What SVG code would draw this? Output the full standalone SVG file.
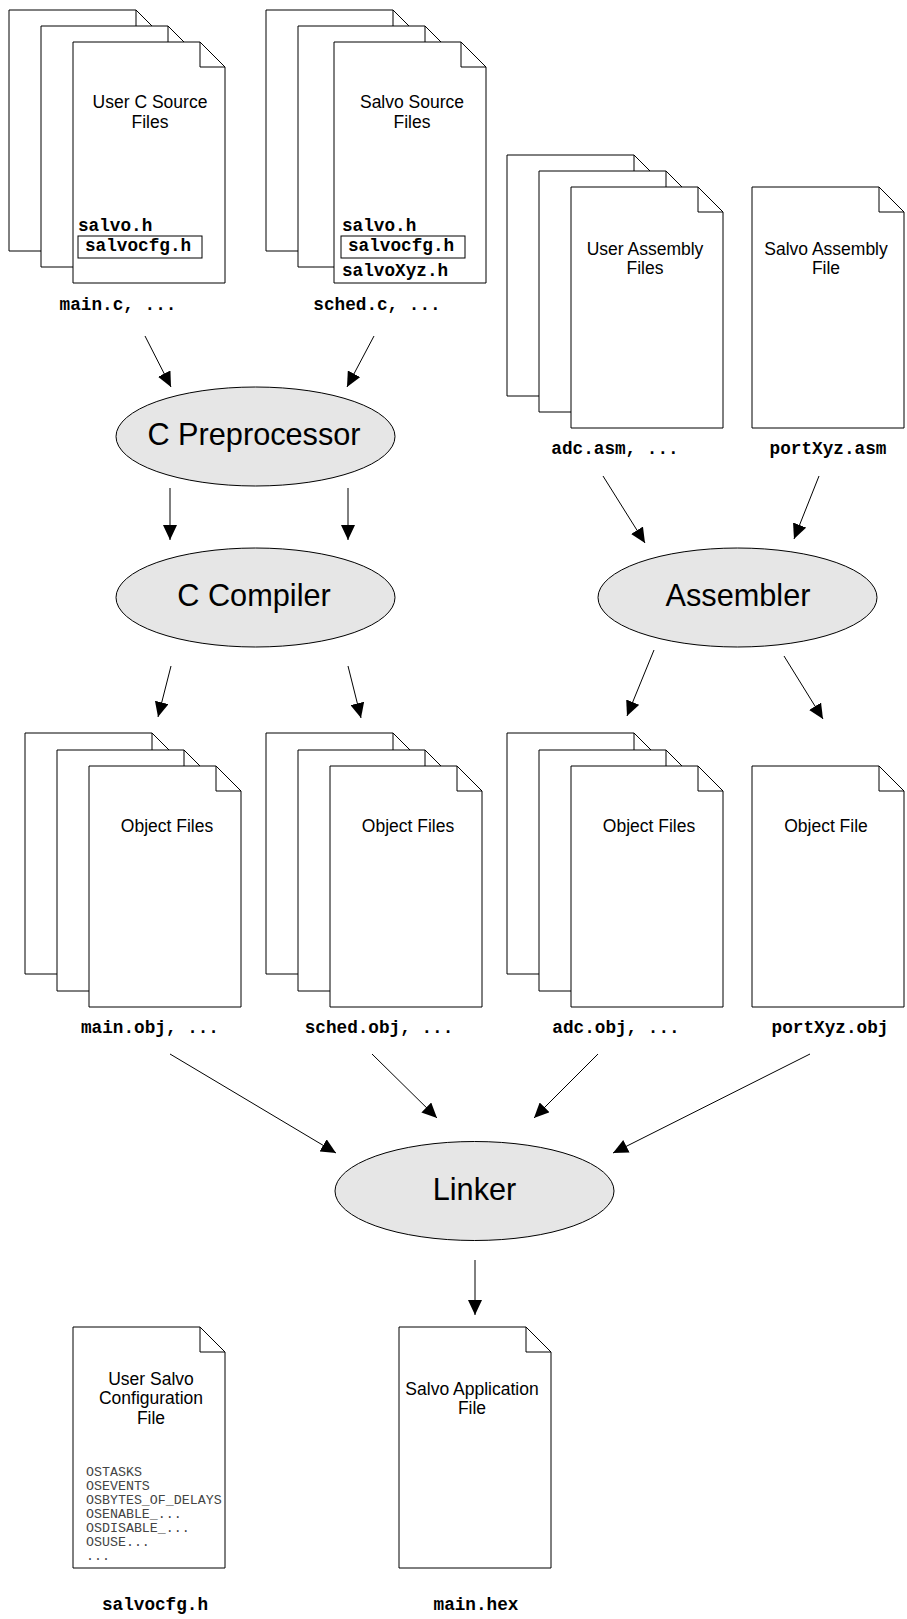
<svg xmlns="http://www.w3.org/2000/svg" width="907" height="1619" viewBox="0 0 907 1619">
<style>
.pg{fill:#fff;stroke:#000;stroke-width:1}
.fold{fill:none;stroke:#000;stroke-width:1}
.box{fill:none;stroke:#000;stroke-width:1}
.el{fill:#e6e6e6;stroke:#000;stroke-width:1}
.t{font-family:"Liberation Sans",Arial,sans-serif;font-size:17.5px;fill:#000;text-anchor:middle}
.big{font-family:"Liberation Sans",Arial,sans-serif;font-size:30.7px;fill:#000;text-anchor:middle}
.m{font-family:"Liberation Mono","Courier New",monospace;font-size:17.7px;font-weight:bold;fill:#000}
.mc{font-family:"Liberation Mono","Courier New",monospace;font-size:17.7px;font-weight:bold;fill:#000;text-anchor:middle}
.os{font-family:"Liberation Mono","Courier New",monospace;font-size:13.3px;fill:#444}
.c{stroke:#000;stroke-width:1;fill:none;marker-end:url(#ah)}
</style>
<defs>
<marker id="ah" markerUnits="userSpaceOnUse" markerWidth="15" markerHeight="14" viewBox="0 0 15 14" refX="15" refY="7" orient="auto">
<path d="M0,0 L15,7 L0,14 z" fill="#000"/>
</marker>
<g id="page">
<path class="pg" d="M0,0 H127 L152,25 V241 H0 Z"/>
<path class="fold" d="M127,0 V25 H152"/>
</g>
</defs>

<g id="user-c-source">
<use href="#page" x="9" y="10"/>
<use href="#page" x="41" y="26"/>
<use href="#page" x="73" y="42"/>
<text class="t" x="150" y="108">User C Source</text>
<text class="t" x="150" y="128">Files</text>
<text class="m" x="78" y="231">salvo.h</text>
<rect class="box" x="78" y="236" width="124" height="22"/>
<text class="m" x="85" y="251">salvocfg.h</text>
<text class="mc" x="118" y="310">main.c, ...</text>
</g>

<g id="salvo-source">
<use href="#page" x="266" y="10"/>
<use href="#page" x="298" y="26"/>
<use href="#page" x="334" y="42"/>
<text class="t" x="412" y="108">Salvo Source</text>
<text class="t" x="412" y="128">Files</text>
<text class="m" x="342" y="231">salvo.h</text>
<rect class="box" x="341" y="236" width="124" height="22"/>
<text class="m" x="348" y="251">salvocfg.h</text>
<text class="m" x="342" y="276">salvoXyz.h</text>
<text class="mc" x="377" y="310">sched.c, ...</text>
</g>

<g id="user-assembly">
<use href="#page" x="507" y="155"/>
<use href="#page" x="539" y="171"/>
<use href="#page" x="571" y="187"/>
<text class="t" x="645" y="255">User Assembly</text>
<text class="t" x="645" y="274">Files</text>
<text class="mc" x="615" y="454">adc.asm, ...</text>
</g>

<g id="salvo-assembly">
<use href="#page" x="752" y="187"/>
<text class="t" x="826" y="255">Salvo Assembly</text>
<text class="t" x="826" y="274">File</text>
<text class="mc" x="828" y="454">portXyz.asm</text>
</g>

<g id="c-preprocessor">
<ellipse class="el" cx="255.5" cy="436.5" rx="139.5" ry="49.5"/>
<text class="big" x="254" y="445">C Preprocessor</text>
</g>

<g id="c-compiler">
<ellipse class="el" cx="255.5" cy="597.5" rx="139.5" ry="49.5"/>
<text class="big" x="254" y="606">C Compiler</text>
</g>

<g id="assembler">
<ellipse class="el" cx="737.5" cy="597.5" rx="139.5" ry="49.5"/>
<text class="big" x="738" y="606">Assembler</text>
</g>

<g id="main-obj">
<use href="#page" x="25" y="733"/>
<use href="#page" x="57" y="750"/>
<use href="#page" x="89" y="766"/>
<text class="t" x="167" y="832">Object Files</text>
<text class="mc" x="150" y="1033">main.obj, ...</text>
</g>

<g id="sched-obj">
<use href="#page" x="266" y="733"/>
<use href="#page" x="298" y="750"/>
<use href="#page" x="330" y="766"/>
<text class="t" x="408" y="832">Object Files</text>
<text class="mc" x="379" y="1033">sched.obj, ...</text>
</g>

<g id="adc-obj">
<use href="#page" x="507" y="733"/>
<use href="#page" x="539" y="750"/>
<use href="#page" x="571" y="766"/>
<text class="t" x="649" y="832">Object Files</text>
<text class="mc" x="616" y="1033">adc.obj, ...</text>
</g>

<g id="port-obj">
<use href="#page" x="752" y="766"/>
<text class="t" x="826" y="832">Object File</text>
<text class="mc" x="830" y="1033">portXyz.obj</text>
</g>

<g id="linker">
<ellipse class="el" cx="474.5" cy="1191" rx="139.5" ry="49.5"/>
<text class="big" x="474.5" y="1200">Linker</text>
</g>

<g id="salvocfg">
<use href="#page" x="73" y="1327"/>
<text class="t" x="151" y="1385">User Salvo</text>
<text class="t" x="151" y="1404">Configuration</text>
<text class="t" x="151" y="1424">File</text>
<text class="os" x="86" y="1476">OSTASKS</text>
<text class="os" x="86" y="1490">OSEVENTS</text>
<text class="os" x="86" y="1504">OSBYTES_OF_DELAYS</text>
<text class="os" x="86" y="1518">OSENABLE_...</text>
<text class="os" x="86" y="1532">OSDISABLE_...</text>
<text class="os" x="86" y="1546">OSUSE...</text>
<text class="os" x="86" y="1560">...</text>
<text class="mc" x="155" y="1610">salvocfg.h</text>
</g>

<g id="application">
<use href="#page" x="399" y="1327"/>
<text class="t" x="472" y="1395">Salvo Application</text>
<text class="t" x="472" y="1414">File</text>
<text class="mc" x="476" y="1610">main.hex</text>
</g>

<g id="connectors">
<line class="c" x1="145" y1="336" x2="171" y2="387"/>
<line class="c" x1="374" y1="336" x2="347" y2="387"/>
<line class="c" x1="170" y1="488" x2="170" y2="540"/>
<line class="c" x1="348" y1="488" x2="348" y2="540"/>
<line class="c" x1="171" y1="666" x2="158" y2="717"/>
<line class="c" x1="348" y1="666" x2="361" y2="718"/>
<line class="c" x1="603" y1="476" x2="645" y2="543"/>
<line class="c" x1="819" y1="476" x2="794" y2="539"/>
<line class="c" x1="654" y1="650" x2="627" y2="716"/>
<line class="c" x1="784" y1="656" x2="823" y2="719"/>
<line class="c" x1="170" y1="1054" x2="336" y2="1153"/>
<line class="c" x1="372" y1="1054" x2="437" y2="1118"/>
<line class="c" x1="598" y1="1054" x2="534" y2="1118"/>
<line class="c" x1="810" y1="1054" x2="613" y2="1153"/>
<line class="c" x1="475" y1="1260" x2="475" y2="1315"/>
</g>
</svg>
